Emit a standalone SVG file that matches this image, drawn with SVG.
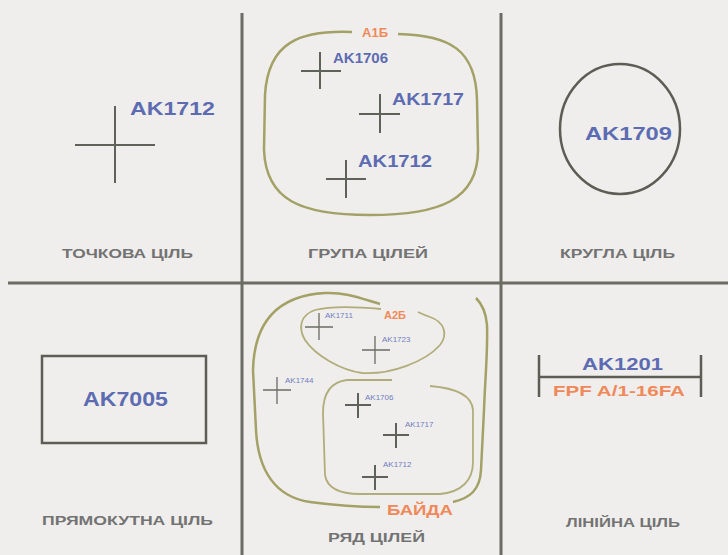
<svg xmlns="http://www.w3.org/2000/svg" width="728" height="555" viewBox="0 0 728 555">
<style>
.bg{fill:#efeeec}
.grid{stroke:#6b6d64;stroke-width:3;fill:none}
.cross{stroke:#5f6259;stroke-width:2;fill:none}
.thin{stroke:#6a6c64;stroke-width:1.3;fill:none}
.olive{stroke:#a3a166;stroke-width:2.5;fill:none}
.olive2{stroke:#b1ad7a;stroke-width:1.8;fill:none}
.shape{stroke:#5c5e56;stroke-width:2.5;fill:none}
.id{font-family:"Liberation Sans",Arial,sans-serif;font-weight:bold;fill:#5d6cb2}
.sm{font-family:"Liberation Sans",Arial,sans-serif;fill:#6f7cc0}
.or{font-family:"Liberation Sans",Arial,sans-serif;font-weight:bold;fill:#f0895a}
.lbl{font-family:"Liberation Sans",Arial,sans-serif;font-weight:bold;fill:#737373;font-size:12.5px}
</style>
<rect class="bg" x="0" y="0" width="728" height="555"/>
<g id="grid">
<line class="grid" x1="242" y1="13" x2="242" y2="555"/>
<line class="grid" x1="501" y1="13" x2="501" y2="555"/>
<line class="grid" x1="8" y1="283" x2="728" y2="283"/>
</g>
<g id="point-target">
<path class="cross" d="M75 145H155M115 106V183"/>
<text class="id" x="130" y="115" font-size="19" textLength="85" lengthAdjust="spacingAndGlyphs">AK1712</text>
<text class="lbl" x="62" y="258" textLength="131" lengthAdjust="spacingAndGlyphs">ТОЧКОВА ЦІЛЬ</text>
</g>
<g id="group-target">
<path class="olive" d="M352 32C300 30 268 42 265 95L264 150C266 200 300 215 370 215C440 215 478 200 478 150L477 100C476 50 450 35 398 34"/>
<text class="or" x="375" y="37" font-size="13" text-anchor="middle">A1Б</text>
<path class="cross" d="M301 71H341M320 52V89"/>
<text class="id" x="333" y="63" font-size="15" textLength="55" lengthAdjust="spacingAndGlyphs">AK1706</text>
<path class="cross" d="M359 114H400M380 94V133"/>
<text class="id" x="392" y="105" font-size="16" textLength="72" lengthAdjust="spacingAndGlyphs">AK1717</text>
<path class="cross" d="M326 179H366M346 160V198"/>
<text class="id" x="358" y="167" font-size="16" textLength="74" lengthAdjust="spacingAndGlyphs">AK1712</text>
<text class="lbl" x="368" y="258" text-anchor="middle" textLength="120" lengthAdjust="spacingAndGlyphs">ГРУПА ЦІЛЕЙ</text>
</g>
<g id="circle-target">
<ellipse class="shape" cx="620" cy="129" rx="60" ry="65"/>
<text class="id" x="585" y="140" font-size="18" textLength="87" lengthAdjust="spacingAndGlyphs">AK1709</text>
<text class="lbl" x="560" y="258" textLength="115" lengthAdjust="spacingAndGlyphs">КРУГЛА ЦІЛЬ</text>
</g>
<g id="rect-target">
<rect class="shape" x="42" y="356" width="164" height="87" stroke-width="3"/>
<text class="id" x="83" y="406" font-size="20" textLength="85" lengthAdjust="spacingAndGlyphs">AK7005</text>
<text class="lbl" x="42" y="525" textLength="171" lengthAdjust="spacingAndGlyphs">ПРЯМОКУТНА ЦІЛЬ</text>
</g>
<g id="series-target">
<path class="olive" d="M380 304C360 298 345 292 325 293C270 296 254 330 253 370L256 430C258 470 275 497 310 502C340 506 365 507 380 507"/>
<path class="olive" d="M453 502C470 498 480 490 481 470L484 410C485 380 488 350 487 325C486 312 482 304 476 298"/>
<path class="olive2" d="M381 309C360 307 330 306 315 310C300 315 298 328 305 340C315 355 340 370 362 373C390 375 425 362 440 345C448 335 445 322 430 317C424 315 420 313 418 312"/>
<path class="olive2" d="M392 380L347 380C330 382 323 395 323 413L325 475C327 488 340 494 360 494L440 494C462 492 473 480 473 462L473 410C472 395 455 388 430 386"/>
<text class="or" x="384" y="319" font-size="11">A2Б</text>
<path class="thin" d="M305 327H333M319 313V340"/>
<text class="sm" x="325" y="318" font-size="8">AK1711</text>
<path class="thin" d="M362 350H390M375 336V364"/>
<text class="sm" x="382" y="342" font-size="8">AK1723</text>
<path class="thin" d="M263 390H291M277 377V404"/>
<text class="sm" x="285" y="383" font-size="8">AK1744</text>
<path class="cross" d="M345 405H371M358 393V418"/>
<text class="sm" x="365" y="400" font-size="8">AK1706</text>
<path class="cross" d="M383 435H409M396 423V448"/>
<text class="sm" x="405" y="427" font-size="8">AK1717</text>
<path class="cross" d="M362 477H388M375 465V490"/>
<text class="sm" x="383" y="467" font-size="8">AK1712</text>
<text class="or" x="387" y="515" font-size="15" textLength="66" lengthAdjust="spacingAndGlyphs">БАЙДА</text>
<text class="lbl" x="328" y="542" textLength="97" lengthAdjust="spacingAndGlyphs">РЯД ЦІЛЕЙ</text>
</g>
<g id="linear-target">
<path class="shape" d="M539 355V397M701 355V397M539 377H702" stroke-width="2"/>
<text class="id" x="582" y="370" font-size="17" textLength="81" lengthAdjust="spacingAndGlyphs">AK1201</text>
<text class="or" x="553" y="396" font-size="14" textLength="132" lengthAdjust="spacingAndGlyphs">FPF A/1-16FA</text>
<text class="lbl" x="566" y="527" textLength="114" lengthAdjust="spacingAndGlyphs">ЛІНІЙНА ЦІЛЬ</text>
</g>
</svg>
